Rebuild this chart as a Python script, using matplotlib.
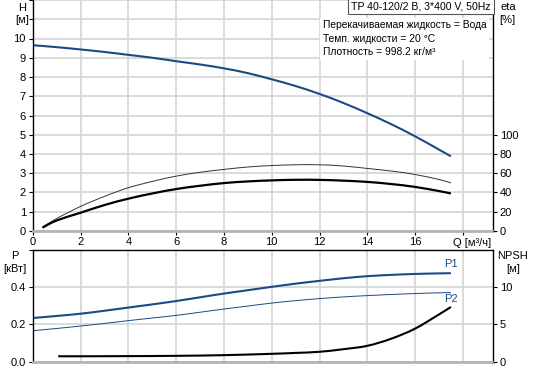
import numpy as np
import matplotlib.pyplot as plt
from matplotlib.path import Path
from matplotlib.patches import PathPatch

plt.rcParams['font.family'] = ['Liberation Sans', 'DejaVu Sans']
plt.rcParams['font.size'] = 8

# head curve H(Q)
q_h = [0, 1, 2, 3, 4, 5, 6, 7, 8, 9, 10, 11, 12, 13, 14, 15, 16, 17, 17.5]
h = [9.65, 9.55, 9.43, 9.3, 9.15, 9.0, 8.82, 8.65, 8.45, 8.2, 7.88, 7.53,
     7.12, 6.65, 6.12, 5.55, 4.92, 4.23, 3.88]

# efficiency curves (pump thin, total thick)
q_eta = [0.4, 1, 2, 3, 4, 5, 6, 7, 8, 9, 10, 11, 12, 13, 14, 15, 16, 17, 17.5]
eta_pump = [4, 13, 25.6, 36, 45, 51.5, 57, 61, 64, 66.5, 68, 68.8, 68.8,
            67.5, 65, 62.3, 58.7, 53.5, 50]
eta_total = [3.5, 11, 19, 27, 33.6, 39, 43.6, 47, 49.8, 51.5, 52.6, 53.2,
             53.1, 52.3, 51, 48.8, 45.8, 41.5, 39]

# power curves
q_p = [0, 1, 2, 3, 4, 5, 6, 7, 8, 9, 10, 11, 12, 13, 14, 15, 16, 17, 17.5]
p1 = [0.233, 0.244, 0.256, 0.272, 0.289, 0.306, 0.324, 0.344, 0.364, 0.382,
      0.4, 0.417, 0.432, 0.446, 0.457, 0.464, 0.469, 0.472, 0.473]
p2 = [0.165, 0.177, 0.19, 0.204, 0.219, 0.233, 0.247, 0.264, 0.281, 0.297,
      0.313, 0.326, 0.337, 0.346, 0.353, 0.359, 0.364, 0.368, 0.369]

# NPSH
q_npsh = [1.06, 2, 4, 6, 8, 10, 11, 12, 13, 14, 15, 16, 17, 17.5]
npsh = [0.7, 0.7, 0.72, 0.76, 0.85, 1.03, 1.15, 1.3, 1.65, 2.1, 3.05, 4.4,
        6.3, 7.3]

q_ticks = [0, 2, 4, 6, 8, 10, 12, 14, 16, 18]
q_ticklabels = ['0', '2', '4', '6', '8', '10', '12', '14', '16', '']

blue = '#1b4a85'
grid_c = '#d4d4d4'
xmax = 19.25


def smooth_line(ax, x, y, **kw):
    # smooth curve through the points (Catmull-Rom as Bezier segments)
    x = np.asarray(x, float)
    y = np.asarray(y, float)
    verts = [(x[0], y[0])]
    codes = [Path.MOVETO]
    n = len(x)
    for i in range(n - 1):
        a = i - 1 if i > 0 else i
        b = i + 2 if i + 2 < n else i + 1
        c1 = (x[i] + (x[i + 1] - x[a]) / 6, y[i] + (y[i + 1] - y[a]) / 6)
        c2 = (x[i + 1] - (x[b] - x[i]) / 6, y[i + 1] - (y[b] - y[i]) / 6)
        verts += [c1, c2, (x[i + 1], y[i + 1])]
        codes += [Path.CURVE4] * 3
    ax.add_patch(PathPatch(Path(verts, codes), fill=False, capstyle='butt', **kw))


fig = plt.figure(figsize=(5.33, 3.70), dpi=100)
ax1 = fig.add_axes([32.9 / 533, 1 - 231 / 370, 459.8 / 533, 231 / 370])
ax3 = fig.add_axes([32.9 / 533, 1 - 361.5 / 370, 459.8 / 533, 112 / 370])


def style(ax, ymax, yticks):
    ax.set_xlim(0, xmax)
    ax.set_ylim(0, ymax)
    ax.set_xticks(q_ticks)
    ax.set_yticks(yticks)
    ax.grid(True, color=grid_c, linewidth=1.2)
    ax.set_axisbelow(True)
    ax.spines['bottom'].set_color('#b4b4b4')
    ax.spines['bottom'].set_linewidth(2)
    for s in ['left', 'right', 'top']:
        ax.spines[s].set_color('black')
        ax.spines[s].set_linewidth(1)
    ax.tick_params(length=3, width=0.8, pad=2, color='black')


# top chart: H and eta
style(ax1, 12, np.arange(0, 13, 1))
ax1.spines['top'].set_visible(False)
ax1.set_yticklabels([str(v) if v <= 10 else '' for v in range(13)])
ax1.set_xticklabels(q_ticklabels)
smooth_line(ax1, q_h, h, edgecolor=blue, lw=1.5)
ax1.tick_params(axis='x', pad=1)

ax2 = ax1.twinx()
ax2.set_ylim(0, 240)
ax2.set_yticks(np.arange(0, 101, 20))
for s in ax2.spines.values():
    s.set_visible(False)
ax2.tick_params(length=3, width=0.8, pad=2)
smooth_line(ax2, q_eta, eta_pump, edgecolor='#333333', lw=0.7)
smooth_line(ax2, q_eta, eta_total, edgecolor='black', lw=1.6)

fig.text(472 / 533, 1 - 243 / 370, 'Q [м³/ч]', ha='center', va='center')

fig.text(22 / 533, 1 - 8 / 370, 'H', ha='center', va='center')
fig.text(22 / 533, 1 - 20 / 370, '[м]', ha='center', va='center')
fig.text(508 / 533, 1 - 7 / 370, 'eta', ha='center', va='center')
fig.text(507 / 533, 1 - 20 / 370, '[%]', ha='center', va='center')

ax1.text(0.995, 0.995, 'TP 40-120/2 B, 3*400 V, 50Hz', transform=ax1.transAxes,
         ha='right', va='top', fontsize=7.6,
         bbox=dict(facecolor='white', edgecolor='#555555', linewidth=0.8,
                   boxstyle='square,pad=0.3'))
ax1.text(0.63, 0.913,
         'Перекачиваемая жидкость = Вода\nТемп. жидкости = 20 °C\n'
         'Плотность = 998.2 кг/м³',
         transform=ax1.transAxes, ha='left', va='top', fontsize=7.4,
         linespacing=1.45,
         bbox=dict(facecolor='white', edgecolor='none',
                   boxstyle='square,pad=0.25'))

# bottom chart: P and NPSH
style(ax3, 0.6, [0.0, 0.2, 0.4, 0.6])
ax3.set_yticklabels(['0.0', '0.2', '0.4', ''])
ax3.tick_params(axis='x', length=0, labelbottom=False)
smooth_line(ax3, q_p, p1, edgecolor=blue, lw=1.5)
smooth_line(ax3, q_p, p2, edgecolor=blue, lw=0.7)
ax3.text(17.5, 0.493, 'P1', color=blue, ha='center', va='bottom', fontsize=8)
ax3.text(17.5, 0.307, 'P2', color=blue, ha='center', va='bottom', fontsize=8)

ax4 = ax3.twinx()
ax4.set_ylim(0, 15)
ax4.set_yticks([0, 5, 10])
for s in ax4.spines.values():
    s.set_visible(False)
ax4.tick_params(length=3, width=0.8, pad=2)
smooth_line(ax4, q_npsh, npsh, edgecolor='black', lw=1.5)

fig.text(15 / 533, 1 - 256 / 370, 'P', ha='center', va='center')
fig.text(15 / 533, 1 - 269 / 370, '[кВт]', ha='center', va='center')
fig.text(513 / 533, 1 - 256 / 370, 'NPSH', ha='center', va='center')
fig.text(513 / 533, 1 - 269 / 370, '[м]', ha='center', va='center')

fig.savefig('out.png', dpi=100)
